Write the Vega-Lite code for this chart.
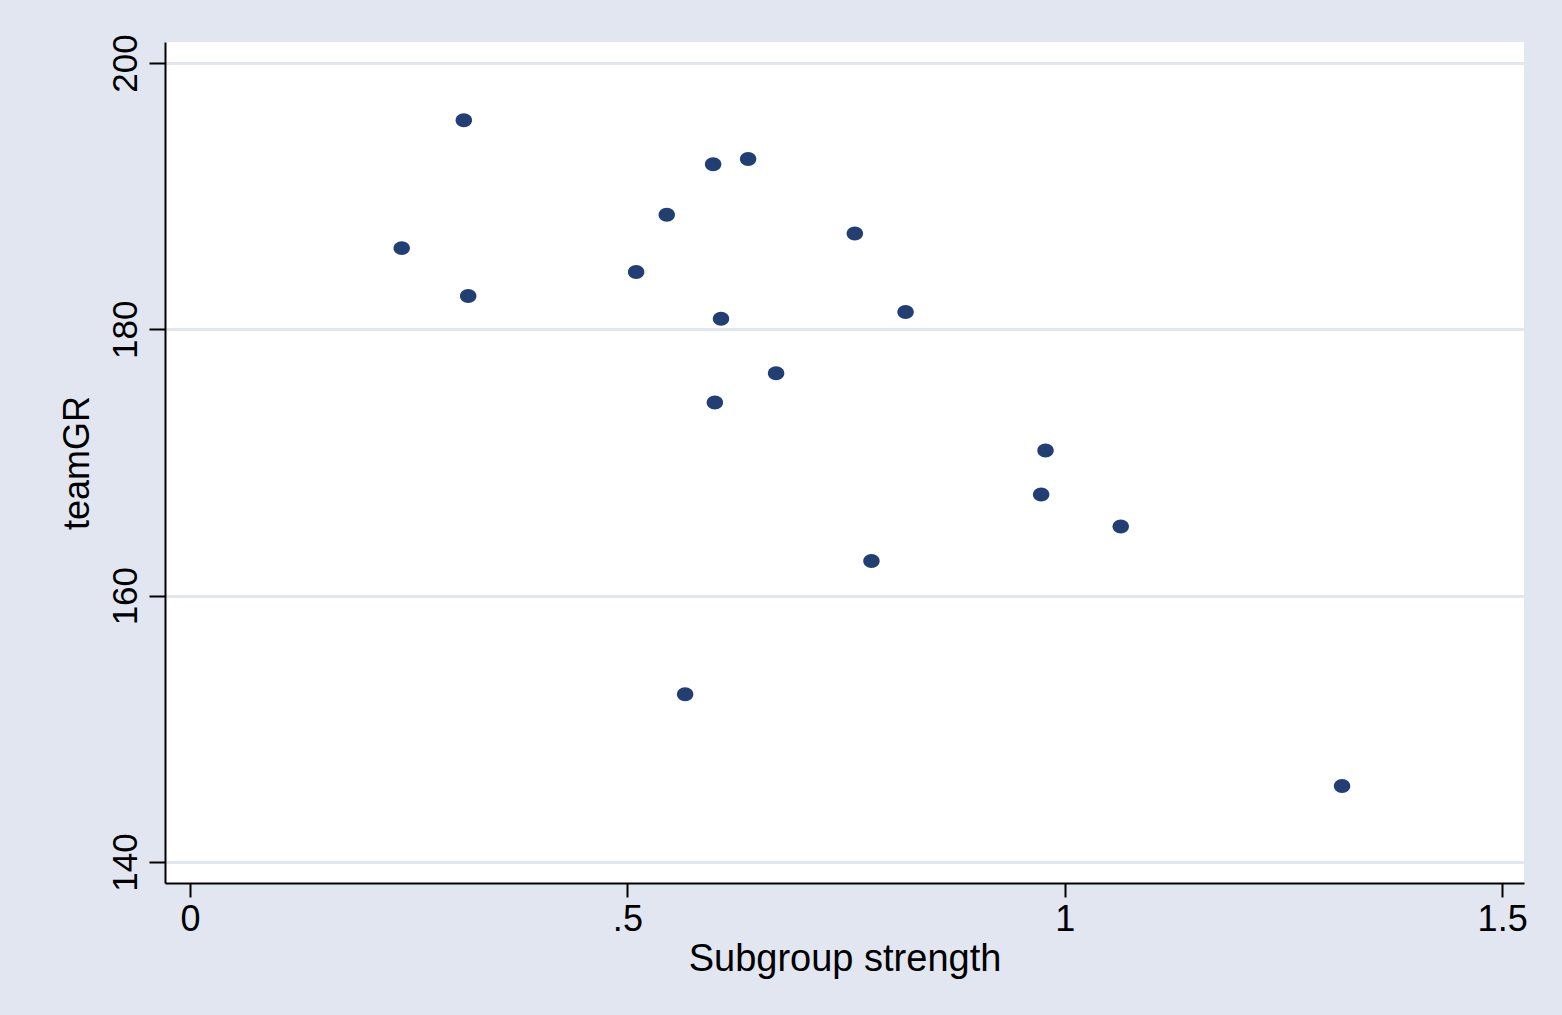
{
  "$schema": "https://vega.github.io/schema/vega-lite/v6.json",
  "autosize": {"type": "none"},
  "width": 1359,
  "height": 841,
  "padding": {"left": 165, "top": 42, "right": 38, "bottom": 132},
  "background": "#e1e6f0",
  "config": {
    "view": {"stroke": null, "fill": "#ffffff"},
    "font": "Liberation Sans"
  },
  "data": {
    "values": [
      {"strength": 0.313, "teamGR": 195.7},
      {"strength": 0.242, "teamGR": 186.1},
      {"strength": 0.318, "teamGR": 182.5},
      {"strength": 0.598, "teamGR": 192.4},
      {"strength": 0.638, "teamGR": 192.8},
      {"strength": 0.545, "teamGR": 188.6},
      {"strength": 0.510, "teamGR": 184.3},
      {"strength": 0.760, "teamGR": 187.2},
      {"strength": 0.607, "teamGR": 180.8},
      {"strength": 0.818, "teamGR": 181.3},
      {"strength": 0.670, "teamGR": 176.7},
      {"strength": 0.600, "teamGR": 174.5},
      {"strength": 0.978, "teamGR": 170.9},
      {"strength": 0.973, "teamGR": 167.6},
      {"strength": 1.064, "teamGR": 165.2},
      {"strength": 0.779, "teamGR": 162.6},
      {"strength": 0.566, "teamGR": 152.6},
      {"strength": 1.317, "teamGR": 145.7}
    ]
  },
  "mark": {"type": "point", "shape": "M-1,0A1,0.85 0 1,0 1,0A1,0.85 0 1,0 -1,0Z", "filled": true, "opacity": 1, "size": 270, "color": "#223f74"},
  "encoding": {
    "x": {
      "field": "strength",
      "type": "quantitative",
      "scale": {"domain": [-0.0286, 1.525], "nice": false, "zero": false},
      "axis": {
        "title": "Subgroup strength",
        "values": [0, 0.5, 1, 1.5],
        "labelExpr": "datum.value == 0.5 ? '.5' : format(datum.value, '~g')",
        "grid": false,
        "domainColor": "#000000",
        "domainWidth": 2,
        "tickColor": "#000000",
        "tickWidth": 2,
        "tickSize": 14,
        "labelFontSize": 36,
        "labelColor": "#000000",
        "labelPadding": 5,
        "titleFontSize": 38,
        "titleFontWeight": "normal",
        "titleColor": "#000000",
        "titlePadding": 3
      }
    },
    "y": {
      "field": "teamGR",
      "type": "quantitative",
      "scale": {"domain": [138.42, 201.58], "nice": false, "zero": false},
      "axis": {
        "title": "teamGR",
        "values": [140, 160, 180, 200],
        "grid": true,
        "gridColor": "#e1e6f0",
        "gridWidth": 3,
        "domainColor": "#000000",
        "domainWidth": 2,
        "tickColor": "#000000",
        "tickWidth": 2,
        "tickSize": 16,
        "labelAngle": -90,
        "labelFontSize": 35,
        "labelColor": "#000000",
        "labelPadding": 6,
        "titleFontSize": 36,
        "titleFontWeight": "normal",
        "titleColor": "#000000",
        "titlePadding": 12
      }
    }
  }
}
